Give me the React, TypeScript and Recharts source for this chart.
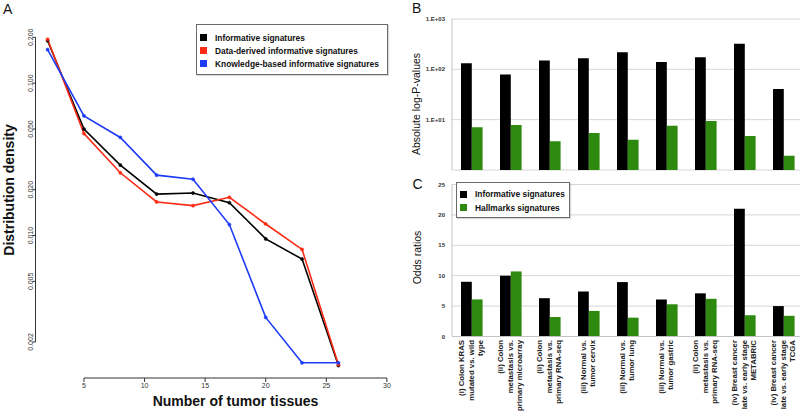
import React from 'react';
import {
  LineChart, Line, XAxis, YAxis, BarChart, Bar, CartesianGrid, Legend, Label,
} from 'recharts';

// ---------- Panel A data ----------
const tissues = [2, 5, 8, 11, 14, 17, 20, 23, 26];
const informativeDensity = [0.19, 0.05, 0.029, 0.0187, 0.019, 0.0164, 0.0095, 0.007, 0.0014];
const dataDerivedDensity = [0.194, 0.0467, 0.0258, 0.0166, 0.0157, 0.0178, 0.0119, 0.0081, 0.00142];
const knowledgeDensity = [0.166, 0.061, 0.044, 0.0249, 0.0234, 0.0118, 0.0029, 0.00146, 0.00146];
const densityTicks = [0.002, 0.005, 0.01, 0.02, 0.05, 0.1, 0.2];
const tissueTicks = [5, 10, 15, 20, 25, 30];
const densityDomain = [0.00116, 0.22];
const tissueDomain = [1, 31];

// ---------- Panel B / C data ----------
const comparisonLabels = [
  ['(i) Colon KRAS', 'mutated vs. wild', 'type'],
  ['(ii) Colon', 'metastasis vs.', 'primary microarray'],
  ['(ii) Colon', 'metastasis vs.', 'primary RNA-seq'],
  ['(iii) Normal vs.', 'tumor cervix'],
  ['(iii) Normal vs.', 'tumor lung'],
  ['(iii) Normal vs.', 'tumor gastric'],
  ['(ii) Colon', 'metastasis vs.', 'primary RNA-seq'],
  ['(iv) Breast cancer', 'late vs. early stage', 'METABRIC'],
  ['(iv) Breast cancer', 'late vs. early stage', 'TCGA'],
];
const logPInformative = [132, 78.5, 149, 166, 219, 140, 174, 324, 40.8];
const logPHallmarks = [7.06, 7.85, 3.72, 5.44, 4.01, 7.6, 9.42, 4.74, 1.92];
const oddsInformative = [9.0, 10.0, 6.3, 7.4, 8.95, 6.1, 7.1, 21.0, 5.0];
const oddsHallmarks = [6.1, 10.7, 3.2, 4.2, 3.1, 5.3, 6.2, 3.5, 3.4];
const logPTicks = [1, 10, 100, 1000];
const oddsTicks = [0, 5, 10, 15, 20, 25];

const lineSeries = [
  { key: 'informative', name: 'Informative signatures', color: '#000000' },
  { key: 'dataDerived', name: 'Data-derived informative signatures', color: '#fa2a14' },
  { key: 'knowledge', name: 'Knowledge-based informative signatures', color: '#1e3cf8' },
];
const barSeries = [
  { key: 'informative', name: 'Informative signatures', color: '#000000' },
  { key: 'hallmarks', name: 'Hallmarks signatures', color: '#2e8a0e' },
];

const densityData = tissues.map((t, i) => ({
  tissues: t,
  informative: informativeDensity[i],
  dataDerived: dataDerivedDensity[i],
  knowledge: knowledgeDensity[i],
}));
const logPData = comparisonLabels.map((lines, i) => ({
  name: lines.join(' '),
  informative: logPInformative[i],
  hallmarks: logPHallmarks[i],
}));
const oddsData = comparisonLabels.map((lines, i) => ({
  name: lines.join(' '),
  informative: oddsInformative[i],
  hallmarks: oddsHallmarks[i],
}));

const FONT = '"Liberation Sans", Arial, Helvetica, sans-serif';

// Panel A geometry (R-style axes that span only the tick range)
const A_W = 400, A_H = 414;
const A_MARGIN = { top: 31, right: 1, bottom: 0, left: 0 };
const A_YW = 35.5, A_XH = 36;
const A_PLOT_W = A_W - A_MARGIN.left - A_MARGIN.right - A_YW;
const A_PLOT_H = A_H - A_MARGIN.top - A_MARGIN.bottom - A_XH;
const xFrac = (v: number) => (v - tissueDomain[0]) / (tissueDomain[1] - tissueDomain[0]);
const yFracFromTop = (v: number) =>
  (Math.log10(densityDomain[1]) - Math.log10(v)) / (Math.log10(densityDomain[1]) - Math.log10(densityDomain[0]));
const xAxisGap = xFrac(tissueTicks[0]) * A_PLOT_W;
const xAxisLen = (xFrac(tissueTicks[tissueTicks.length - 1]) - xFrac(tissueTicks[0])) * A_PLOT_W;
const yAxisGap = yFracFromTop(densityTicks[densityTicks.length - 1]) * A_PLOT_H;
const yAxisLen = (yFracFromTop(densityTicks[0]) - yFracFromTop(densityTicks[densityTicks.length - 1])) * A_PLOT_H;

const DensityTick = (props: any) => {
  const { x, y, payload } = props;
  return (
    <text x={x + 0.5} y={y} transform={`rotate(-90, ${x + 0.5}, ${y})`} textAnchor="middle"
      fontSize={7} fill="#333" fontFamily={FONT}>
      {Number(payload.value).toFixed(3)}
    </text>
  );
};
const TissueTick = (props: any) => {
  const { x, y, payload } = props;
  return (
    <text x={x} y={y + 6} textAnchor="middle" fontSize={7} fill="#333" fontFamily={FONT}>
      {payload.value}
    </text>
  );
};
const SmallYTick = (fmt: (v: number) => string) => (props: any) => {
  const { x, y, payload } = props;
  return (
    <text x={x} y={y + 2} textAnchor="end" fontSize={6} fontWeight="bold" fill="#333" fontFamily={FONT}>
      {fmt(payload.value)}
    </text>
  );
};
const CategoryTick = (props: any) => {
  const { x, y, payload } = props;
  const lines = comparisonLabels[payload.index] || [];
  const n = lines.length;
  return (
    <g>
      {lines.map((ln, j) => {
        const bx = x + (j - (n - 1) / 2) * 9.6 + 2;
        const by = y;
        return (
          <text key={j} x={bx} y={by} transform={`rotate(-90, ${bx}, ${by})`} textAnchor="end"
            fontSize={7.8} fontWeight="bold" fill="#222" fontFamily={FONT}>
            {ln}
          </text>
        );
      })}
    </g>
  );
};

const LegendBox = ({ items, width, height, rowH, padTop }: any) => (
  <div style={{
    width, height, boxSizing: 'border-box', border: '1px solid #6a6a6a', background: '#fff',
    paddingTop: padTop, fontFamily: FONT, boxShadow: '1px 1px 1px rgba(0,0,0,0.15)',
  }}>
    {items.map((it: any) => (
      <div key={it.name} style={{ height: rowH, display: 'flex', alignItems: 'center', paddingLeft: 3 }}>
        <span style={{ width: 7, height: 7, background: it.color, display: 'inline-block', marginRight: 8 }} />
        <span style={{ fontSize: 8.4, fontWeight: 'bold', color: '#111', whiteSpace: 'nowrap' }}>{it.name}</span>
      </div>
    ))}
  </div>
);

export default function App() {
  return (
    <div style={{ position: 'absolute', left: 0, top: 0, width: 800, height: 414, background: '#fff', overflow: 'hidden' }}>
      {/* Panel A */}
      <div style={{ position: 'absolute', left: 0, top: 0 }}>
        <LineChart width={A_W} height={A_H} data={densityData} margin={A_MARGIN}>
          <XAxis dataKey="tissues" type="number" domain={tissueDomain} ticks={tissueTicks}
            allowDataOverflow tickSize={4} tickMargin={0}
            axisLine={{ stroke: '#333', strokeDasharray: `0 ${xAxisGap} ${xAxisLen} 2000` }}
            tickLine={{ stroke: '#333' }} tick={<TissueTick />} height={A_XH}>
            <Label content={() => (
              <text x={235.5} y={406} textAnchor="middle" fontSize={14} fontWeight="bold" fill="#111" fontFamily={FONT}>
                Number of tumor tissues
              </text>
            )} />
          </XAxis>
          <YAxis type="number" scale="log" domain={densityDomain} ticks={densityTicks} allowDataOverflow
            tickSize={3} tickMargin={0} tickLine={{ stroke: '#333' }}
            axisLine={{ stroke: '#333', strokeDasharray: `0 ${yAxisGap} ${yAxisLen} 2000` }}
            tick={<DensityTick />} width={A_YW}>
            <Label content={() => (
              <text x={14} y={190} transform="rotate(-90, 14, 190)" textAnchor="middle" fontSize={14}
                fontWeight="bold" fill="#111" fontFamily={FONT}>
                Distribution density
              </text>
            )} />
          </YAxis>
          {lineSeries.map((s) => (
            <Line key={s.key} type="linear" dataKey={s.key} name={s.name} stroke={s.color} strokeWidth={1.6}
              dot={{ r: 1.6, fill: s.color, stroke: s.color, strokeWidth: 0.5 }} isAnimationActive={false} />
          ))}
          <Legend layout="vertical" align="center" verticalAlign="middle"
            wrapperStyle={{ left: 196, top: 24, width: 192, height: 51 }}
            content={() => <LegendBox items={lineSeries} width={192} height={51} rowH={13} padTop={6} />} />
        </LineChart>
      </div>

      {/* Panel B */}
      <div style={{ position: 'absolute', left: 400, top: 0 }}>
        <BarChart width={403} height={171} data={logPData} barGap={0} barSize={10.8}
          margin={{ top: 19, right: 0, bottom: 1, left: 0 }}>
          <CartesianGrid vertical={false} stroke="#d6d6d6" />
          <XAxis dataKey="name" hide />
          <YAxis type="number" scale="log" domain={[1, 1000]} ticks={logPTicks} allowDataOverflow
            width={52} tickLine={false} tickSize={0} tickMargin={7} axisLine={{ stroke: '#c4c4c4' }}
            tick={SmallYTick((v) => `1.E+0${Math.round(Math.log10(v))}`)}>
            <Label content={() => (
              <text x={20} y={104} transform="rotate(-90, 20, 104)" textAnchor="middle" fontSize={10.5}
                fill="#111" fontFamily={FONT}>
                Absolute log-P-values
              </text>
            )} />
          </YAxis>
          {barSeries.map((s) => (
            <Bar key={s.key} dataKey={s.key} name={s.name} fill={s.color} isAnimationActive={false} />
          ))}
        </BarChart>
      </div>

      {/* Panel C */}
      <div style={{ position: 'absolute', left: 400, top: 160 }}>
        <BarChart width={403} height={254} data={oddsData} barGap={0} barSize={10.8}
          margin={{ top: 24.5, right: 0, bottom: 0, left: 0 }}>
          <CartesianGrid vertical={false} stroke="#d6d6d6" />
          <XAxis dataKey="name" height={77.5} axisLine={{ stroke: '#c4c4c4' }} tickLine={false}
            tickSize={0} tickMargin={3.5} interval={0} tick={<CategoryTick />} />
          <YAxis type="number" domain={[0, 25]} ticks={oddsTicks} width={52} tickLine={false}
            tickSize={0} tickMargin={7} axisLine={{ stroke: '#c4c4c4' }}
            tick={SmallYTick((v) => String(v))}>
            <Label content={() => (
              <text x={21} y={97.5} transform="rotate(-90, 21, 97.5)" textAnchor="middle" fontSize={10.5}
                fill="#111" fontFamily={FONT}>
                Odds ratios
              </text>
            )} />
          </YAxis>
          {barSeries.map((s) => (
            <Bar key={s.key} dataKey={s.key} name={s.name} fill={s.color} isAnimationActive={false} />
          ))}
          <Legend layout="vertical" align="center" verticalAlign="middle"
            wrapperStyle={{ left: 56, top: 22, width: 114, height: 36 }}
            content={() => <LegendBox items={barSeries} width={114} height={36} rowH={13.4} padTop={4.5} />} />
        </BarChart>
      </div>

      {/* Panel letters */}
      <svg width={800} height={414} style={{ position: 'absolute', left: 0, top: 0, pointerEvents: 'none' }}>
        <text x={3} y={14} fontSize={14} fill="#111" fontFamily={FONT}>A</text>
        <text x={412} y={13.3} fontSize={14} fill="#111" fontFamily={FONT}>B</text>
        <text x={412.5} y={189} fontSize={14} fill="#111" fontFamily={FONT}>C</text>
      </svg>
    </div>
  );
}
